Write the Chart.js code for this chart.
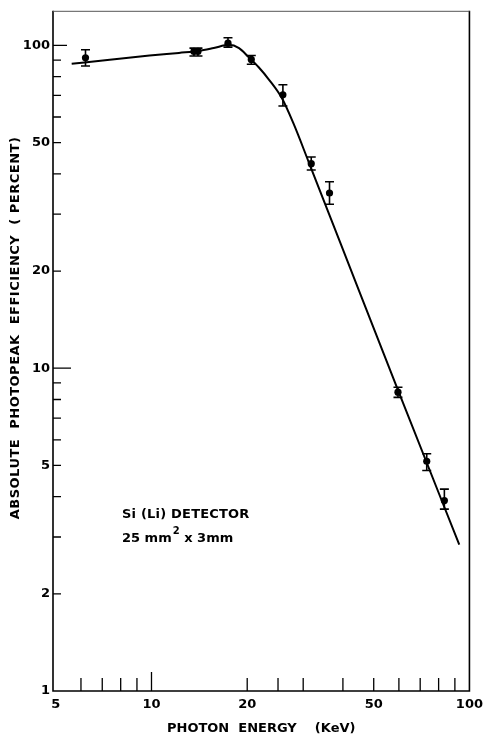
<!DOCTYPE html>
<html><head><meta charset="utf-8">
<script src="https://cdn.jsdelivr.net/npm/chart.js@4/dist/chart.umd.min.js"></script>
<style>html,body{margin:0;padding:0;background:#fff;} #wrap{width:489px;height:738px;position:relative;}</style>
</head><body><div id="wrap"><canvas id="c"></canvas></div>
<script>
// Measured points (keV, percent) with error bars
const energy     = [6.2, 13.6, 14.0, 17.4, 20.6, 25.9, 31.8, 36.3, 59.6, 73.4, 83.4];
const efficiency = [91.5, 95.8, 95.8, 101.6, 90.5, 70.3, 43.0, 34.9, 8.43, 5.15, 3.89];
const errLow     = [86.3, 92.7, 92.7, 98.8, 87.4, 64.9, 41.1, 32.2, 8.12, 4.82, 3.66];
const errHigh    = [96.9, 98.1, 98.1, 105.6, 93.1, 75.5, 45.1, 37.8, 8.73, 5.43, 4.22];
// Fitted curve
const curveEnergy = [5.61, 7.39, 9.86, 12.2, 14.1, 15.7, 17.5, 18.85, 20.2, 21.7, 23.4, 25.7, 28.0, 31.2, 39.1, 59.6, 92.9];
const curveEff    = [87.7, 90.3, 93.0, 94.8, 96.1, 98.1, 100.4, 98.1, 92.0, 85.7, 78.4, 68.7, 57.1, 43.6, 24.7, 8.55, 2.84];
// Axis ticks
const xTickValues = [5, 6, 7, 8, 9, 10, 20, 25, 30, 40, 50, 60, 70, 80, 90, 100];
const xTickLabels = {5: '5', 10: '10', 20: '20', 50: '50', 100: '100'};
const yTickValues = [1, 2, 3, 4, 5, 6, 7, 8, 9, 10, 20, 30, 40, 50, 60, 70, 80, 90, 100];
const yTickLabels = {1: '1', 2: '2', 5: '5', 10: '10', 20: '20', 50: '50', 100: '100'};
const xTitle = 'PHOTON  ENERGY    (KeV)';
const yTitle = 'ABSOLUTE  PHOTOPEAK  EFFICIENCY  ( PERCENT)';
const noteLine1 = 'Si (Li) DETECTOR';

const FONT = 'DejaVu Sans';

const decor = {
  id: 'decor',
  beforeDatasetsDraw(chart) {
    const {ctx, scales: {x, y}} = chart;
    ctx.save();
    ctx.strokeStyle = '#000';
    ctx.lineWidth = 1.6;
    ctx.beginPath();
    energy.forEach((e, i) => {
      const px = x.getPixelForValue(e);
      const yl = y.getPixelForValue(errLow[i]);
      const yh = y.getPixelForValue(errHigh[i]);
      ctx.moveTo(px, yl); ctx.lineTo(px, yh);
      ctx.moveTo(px - 4.5, yl); ctx.lineTo(px + 4.5, yl);
      ctx.moveTo(px - 4.5, yh); ctx.lineTo(px + 4.5, yh);
    });
    ctx.stroke();
    ctx.restore();
  },
  afterDraw(chart) {
    const {ctx, chartArea: a, scales: {x, y}} = chart;
    ctx.save();
    // frame
    ctx.strokeStyle = '#000';
    ctx.lineWidth = 1.6;
    ctx.beginPath();
    ctx.moveTo(a.left, a.top); ctx.lineTo(a.left, a.bottom); ctx.lineTo(a.right, a.bottom); ctx.lineTo(a.right, a.top);
    ctx.stroke();
    ctx.strokeStyle = '#555';
    ctx.lineWidth = 1;
    ctx.beginPath();
    ctx.moveTo(a.left, a.top + 0.5); ctx.lineTo(a.right, a.top + 0.5);
    ctx.stroke();
    // inward tick marks
    ctx.strokeStyle = '#000';
    ctx.lineWidth = 1.3;
    ctx.beginPath();
    yTickValues.forEach(v => {
      if (v === 1) return;
      const py = y.getPixelForValue(v);
      const len = v === 10 ? 18 : (v === 100 ? 14 : 8);
      ctx.moveTo(a.left, py); ctx.lineTo(a.left + len, py);
    });
    xTickValues.forEach(v => {
      if (v === 5 || v === 100) return;
      const px = x.getPixelForValue(v);
      const len = v === 10 ? 19 : 13;
      ctx.moveTo(px, a.bottom); ctx.lineTo(px, a.bottom - len);
    });
    ctx.stroke();
    // y axis title
    ctx.fillStyle = '#000';
    ctx.font = 'bold 13px "' + FONT + '"';
    ctx.letterSpacing = '0.5px';
    ctx.save();
    ctx.translate(16, 328);
    ctx.rotate(-Math.PI / 2);
    ctx.textAlign = 'center';
    ctx.textBaseline = 'middle';
    ctx.fillText(yTitle, 0, 0);
    ctx.restore();
    // annotation
    ctx.letterSpacing = '0.2px';
    ctx.textAlign = 'left';
    ctx.textBaseline = 'alphabetic';
    const nx = a.left + 69;
    ctx.fillText(noteLine1, nx, 518);
    ctx.letterSpacing = '0px';
    const p1 = '25 mm', p2 = '2', p3 = ' x 3mm';
    ctx.fillText(p1, nx, 542);
    const w1 = ctx.measureText(p1).width;
    ctx.font = 'bold 10px "' + FONT + '"';
    ctx.fillText(p2, nx + w1 + 1, 534);
    const w2 = ctx.measureText(p2).width;
    ctx.font = 'bold 13px "' + FONT + '"';
    ctx.fillText(p3, nx + w1 + w2 + 1, 542);
    ctx.restore();
  }
};

new Chart(document.getElementById('c'), {
  type: 'scatter',
  data: {
    datasets: [
      {
        label: 'Fit',
        data: curveEnergy.map((e, i) => ({x: e, y: curveEff[i]})),
        showLine: true,
        borderColor: '#000',
        borderWidth: 2,
        pointRadius: 0,
        cubicInterpolationMode: 'monotone',
        fill: false,
        order: 2
      },
      {
        label: 'Measured',
        data: energy.map((e, i) => ({x: e, y: efficiency[i]})),
        backgroundColor: '#000',
        borderColor: '#000',
        pointRadius: 3.6,
        borderWidth: 0,
        order: 1
      }
    ]
  },
  options: {
    responsive: true,
    maintainAspectRatio: false,
    animation: false,
    layout: {padding: {left: 0, right: 17, top: 8, bottom: 0}},
    plugins: {legend: {display: false}, tooltip: {enabled: false}},
    scales: {
      x: {
        type: 'logarithmic',
        position: 'bottom',
        min: 4.9,
        max: 100,
        grid: {display: false, drawTicks: false},
        border: {display: false},
        afterBuildTicks: axis => { axis.ticks = xTickValues.map(v => ({value: v})); },
        afterFit: axis => { axis.height = 47; },
        ticks: {
          autoSkip: false, maxRotation: 0, padding: 6, color: '#000',
          font: {family: FONT, size: 13, weight: 'bold'},
          callback: v => xTickLabels[v] || ''
        },
        title: {
          display: true, text: xTitle, color: '#000',
          font: {family: FONT, size: 13, weight: 'bold'},
          padding: {top: 0, bottom: 2}
        }
      },
      y: {
        type: 'logarithmic',
        position: 'left',
        min: 1,
        max: 128,
        grid: {display: false, drawTicks: false},
        border: {display: false},
        afterBuildTicks: axis => { axis.ticks = yTickValues.map(v => ({value: v})); },
        afterFit: axis => { axis.width = 53; },
        ticks: {
          autoSkip: false, padding: 3, color: '#000',
          font: {family: FONT, size: 13, weight: 'bold'},
          callback: v => yTickLabels[v] || ''
        }
      }
    }
  },
  plugins: [decor]
});
</script>
</body></html>
